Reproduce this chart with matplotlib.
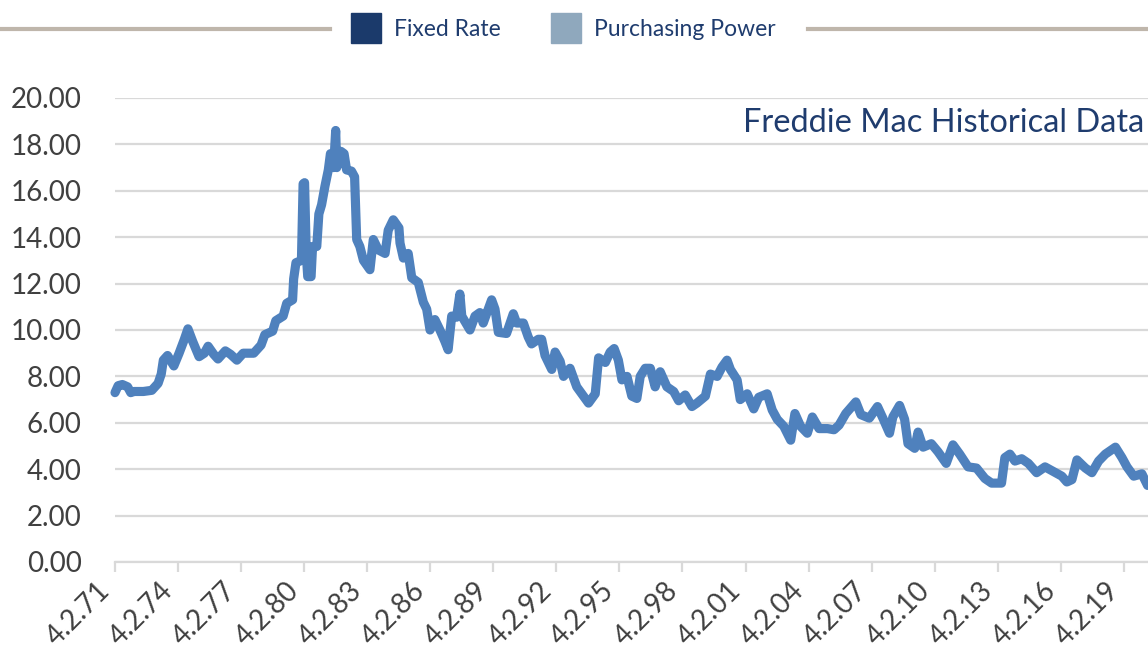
import matplotlib
matplotlib.use("Agg")
import matplotlib.pyplot as plt
from matplotlib.patches import Rectangle
from matplotlib.lines import Line2D

# 30-year fixed rate (%), x as decimal year
years = [1971.25, 1971.40, 1971.60, 1971.85, 1972.00, 1972.15, 1972.60, 1973.00, 1973.30, 1973.45,
         1973.55, 1973.75, 1974.05, 1974.30, 1974.55, 1974.72, 1974.95, 1975.25, 1975.50, 1975.68,
         1975.95, 1976.15, 1976.50, 1976.75, 1977.05, 1977.35, 1977.85, 1978.20, 1978.38, 1978.75,
         1978.90, 1979.25, 1979.42, 1979.70, 1979.75, 1979.86, 1980.12, 1980.20, 1980.27, 1980.35,
         1980.42, 1980.58, 1980.65, 1980.85, 1980.90, 1980.95, 1981.08, 1981.24, 1981.40, 1981.50,
         1981.65, 1981.75, 1981.80, 1982.00, 1982.15, 1982.27, 1982.50, 1982.65, 1982.70, 1982.75,
         1982.90, 1983.07, 1983.38, 1983.54, 1983.78, 1984.10, 1984.25, 1984.49, 1984.76, 1984.81,
         1984.97, 1985.20, 1985.37, 1985.68, 1985.92, 1986.08, 1986.24, 1986.47, 1986.71, 1986.95,
         1987.10, 1987.27, 1987.50, 1987.66, 1987.75, 1988.14, 1988.38, 1988.61, 1988.77, 1989.01,
         1989.17, 1989.33, 1989.49, 1989.88, 1990.20, 1990.36, 1990.68, 1990.91, 1991.07, 1991.39,
         1991.55, 1991.71, 1992.03, 1992.19, 1992.43, 1992.59, 1992.90, 1993.22, 1993.46, 1993.78,
         1994.10, 1994.26, 1994.58, 1994.81, 1995.00, 1995.20, 1995.37, 1995.61, 1995.84, 1996.08,
         1996.24, 1996.48, 1996.72, 1996.95, 1997.19, 1997.51, 1997.83, 1998.07, 1998.38, 1998.70,
         1998.94, 1999.34, 1999.58, 1999.90, 2000.13, 2000.37, 2000.53, 2000.85, 2001.00, 2001.33,
         2001.64, 2001.88, 2002.28, 2002.52, 2002.76, 2003.07, 2003.40, 2003.60, 2003.87, 2004.19,
         2004.43, 2004.75, 2005.15, 2005.46, 2005.70, 2006.02, 2006.50, 2006.74, 2007.14, 2007.53,
         2007.81, 2008.10, 2008.26, 2008.58, 2008.82, 2008.98, 2009.30, 2009.46, 2009.70, 2010.09,
         2010.41, 2010.80, 2011.12, 2011.44, 2011.84, 2012.24, 2012.64, 2012.96, 2013.43, 2013.59,
         2013.83, 2014.07, 2014.39, 2014.71, 2015.10, 2015.50, 2015.90, 2016.30, 2016.54, 2016.78,
         2017.02, 2017.42, 2017.73, 2018.05, 2018.37, 2018.85, 2019.16, 2019.40, 2019.72, 2020.11,
         2020.38]
rates = [7.30, 7.60, 7.65, 7.55, 7.30, 7.35, 7.35, 7.40, 7.70, 8.10,
         8.70, 8.90, 8.45, 9.00, 9.60, 10.05, 9.50, 8.85, 9.00, 9.30,
         8.95, 8.75, 9.10, 8.95, 8.70, 9.00, 9.00, 9.35, 9.80, 9.95,
         10.40, 10.60, 11.15, 11.30, 12.20, 12.90, 13.00, 16.30, 16.35, 13.30,
         12.30, 12.30, 13.60, 13.60, 14.30, 15.00, 15.40, 16.20, 16.90, 17.60,
         17.00, 18.60, 17.00, 17.70, 17.60, 16.90, 16.85, 16.60, 15.20, 13.90,
         13.60, 13.00, 12.60, 13.90, 13.45, 13.30, 14.30, 14.75, 14.40, 13.75,
         13.10, 13.30, 12.25, 12.05, 11.20, 10.90, 10.00, 10.45, 10.00, 9.50,
         9.15, 10.60, 10.55, 11.55, 10.60, 10.00, 10.60, 10.75, 10.30, 10.90,
         11.30, 10.90, 9.90, 9.85, 10.70, 10.30, 10.30, 9.70, 9.40, 9.60,
         9.60, 8.90, 8.30, 9.05, 8.65, 8.00, 8.35, 7.55, 7.25, 6.85,
         7.25, 8.80, 8.60, 9.05, 9.20, 8.70, 7.85, 8.00, 7.15, 7.05,
         8.00, 8.35, 8.35, 7.55, 8.20, 7.55, 7.35, 6.95, 7.20, 6.70,
         6.85, 7.15, 8.10, 8.00, 8.40, 8.70, 8.30, 7.85, 7.00, 7.25,
         6.60, 7.10, 7.25, 6.55, 6.15, 5.85, 5.25, 6.40, 5.85, 5.55,
         6.25, 5.75, 5.75, 5.70, 5.90, 6.40, 6.90, 6.35, 6.20, 6.70,
         6.15, 5.55, 6.25, 6.75, 6.15, 5.10, 4.90, 5.60, 4.95, 5.10,
         4.75, 4.25, 5.05, 4.65, 4.10, 4.05, 3.60, 3.40, 3.40, 4.50,
         4.65, 4.35, 4.45, 4.25, 3.85, 4.10, 3.90, 3.70, 3.45, 3.55,
         4.40, 4.05, 3.85, 4.35, 4.65, 4.95, 4.50, 4.10, 3.70, 3.80,
         3.30]

tick_years = [1971.25 + 3 * k for k in range(17)]
tick_labels = ["4.2.%02d" % ((1971 + 3 * k) % 100) for k in range(17)]
y_ticks = [0, 2, 4, 6, 8, 10, 12, 14, 16, 18, 20]

plt.rcParams['font.family'] = ['Lato', 'DejaVu Sans']

W, H = 1148, 652
fig = plt.figure(figsize=(W / 100, H / 100), dpi=100)
ax = fig.add_axes([115 / W, (H - 562) / H, (W - 115) / W, (562 - 98) / H])

ax.plot(years, rates, color='#4f81bd', lw=6.6, solid_joinstyle='round',
        solid_capstyle='round', zorder=3, clip_on=False)

ax.set_xlim(1971.25, 2020.4)
ax.set_ylim(0, 20)
ax.set_yticks(y_ticks)
ax.set_yticklabels(["%.2f" % v for v in y_ticks])
ax.set_xticks(tick_years)
ax.set_xticklabels(tick_labels, rotation=45, ha='right')

ax.grid(axis='y', color='#d9d9d9', lw=1.6, zorder=0)
ax.set_axisbelow(True)
for s in ['top', 'right', 'left']:
    ax.spines[s].set_visible(False)
ax.spines['bottom'].set_color('#d9d9d9')
ax.spines['bottom'].set_linewidth(1.6)
ax.tick_params(axis='y', length=0, pad=24, labelsize=20, labelcolor='#404040')
ax.tick_params(axis='x', direction='out', length=7, width=1.6, color='#d9d9d9',
               pad=4, labelsize=20, labelcolor='#404040')

ax.text(0.996, 0.946, "Freddie Mac Historical Data", transform=ax.transAxes,
        ha='right', va='center', fontsize=23.5, color='#1f3c6e')

# legend strip at the top
ly = (H - 29) / H
fig.add_artist(Line2D([0, 330 / W], [ly, ly], color='#bfb6ab', lw=3, transform=fig.transFigure))
fig.add_artist(Line2D([808 / W, 1], [ly, ly], color='#bfb6ab', lw=3, transform=fig.transFigure))
fig.add_artist(Rectangle((351 / W, (H - 43) / H), 30 / W, 30 / H, color='#1b3a6b',
                         transform=fig.transFigure))
fig.add_artist(Rectangle((551 / W, (H - 43) / H), 30 / W, 30 / H, color='#8fa8bd',
                         transform=fig.transFigure))
fig.text(394 / W, ly, "Fixed Rate", ha='left', va='center', fontsize=16.5, color='#1f3c6e')
fig.text(594 / W, ly, "Purchasing Power", ha='left', va='center', fontsize=16.5, color='#1f3c6e')

fig.savefig('out.png', dpi=100)
